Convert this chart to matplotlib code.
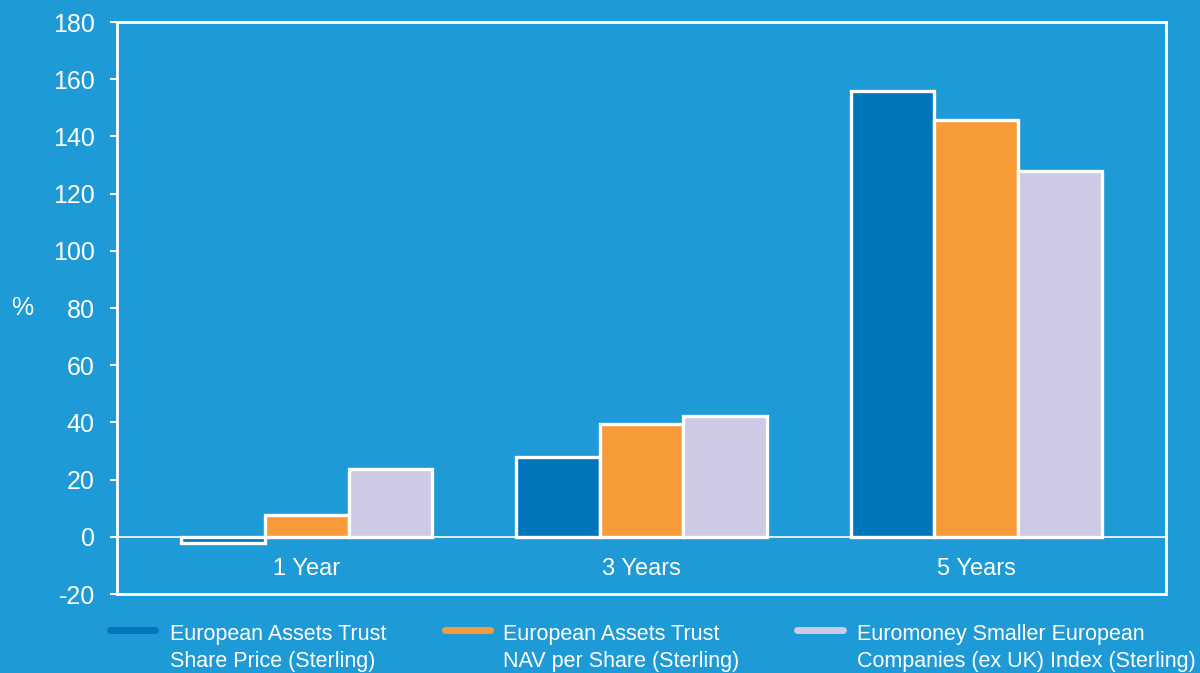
import matplotlib
matplotlib.use("Agg")
import matplotlib.pyplot as plt
import numpy as np
from matplotlib.lines import Line2D

categories = ["1 Year", "3 Years", "5 Years"]
series_names = ["European Assets Trust\nShare Price (Sterling)",
                "European Assets Trust\nNAV per Share (Sterling)",
                "Euromoney Smaller European\nCompanies (ex UK) Index (Sterling)"]
share_price = [-2.2, 28.0, 155.8]
nav = [7.6, 39.6, 145.6]
index_vals = [23.6, 42.2, 127.8]
yticks = [-20, 0, 20, 40, 60, 80, 100, 120, 140, 160, 180]

bg = "#1E9AD6"
colors = ["#0075BA", "#F79B38", "#CDCAE6"]

plt.rcParams['font.family'] = ['Liberation Sans', 'DejaVu Sans']

W, H = 1200, 673
fig = plt.figure(figsize=(12, 6.73), dpi=100, facecolor=bg)
ax = fig.add_axes([117/W, 1 - 594/H, (1166-117)/W, (594-22)/H], facecolor=bg)

x = np.arange(len(categories))
w = 0.25
for i, (vals, c) in enumerate(zip([share_price, nav, index_vals], colors)):
    ax.bar(x + (i - 1) * w, vals, width=w, color=c, edgecolor="white", linewidth=2.4, zorder=3)

ax.axhline(0, color="white", linewidth=1.2, zorder=2)
ax.set_xlim(-0.567, 2.567)
ax.set_ylim(-20, 180)
ax.set_yticks(yticks)
ax.set_yticklabels([str(t) for t in yticks])
ax.set_xticks([])

for s in ax.spines.values():
    s.set_color("white")
    s.set_linewidth(2)

ax.tick_params(axis='y', colors="white", labelcolor="white", labelsize=18, length=5, width=1.5,
               direction='out', pad=11)
for xi, cat in zip(x, categories):
    ax.text(xi, -11.2, cat, ha="center", va="center", color="white", fontsize=17)

fig.text(22/W, 1 - 308/H, "%", ha="center", va="center", color="white", fontsize=18)

# legend drawn manually in figure pixel coordinates
handle_x = [(110, 155), (445, 490), (797, 843)]
text_x = [170, 503, 857]
for (hx0, hx1), tx, c, name in zip(handle_x, text_x, colors, series_names):
    fig.add_artist(Line2D([hx0/W, hx1/W], [1 - 630/H, 1 - 630/H], transform=fig.transFigure,
                          color=c, linewidth=5, solid_capstyle='round'))
    fig.text(tx/W, 1 - 648/H, name, ha="left", va="center", color="white",
             fontsize=15.5, linespacing=1.38)

fig.savefig("out.png", dpi=100, facecolor=bg)
